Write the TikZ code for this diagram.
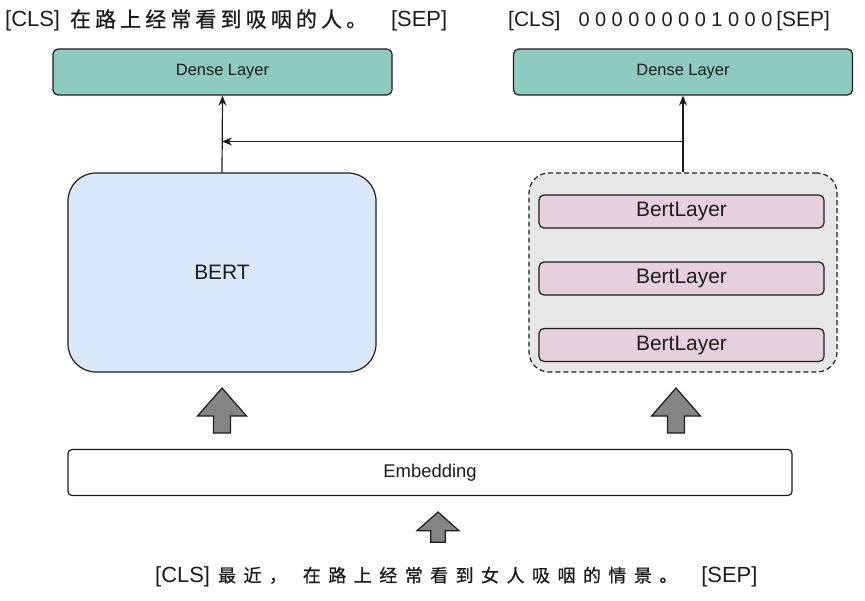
\documentclass[tikz,border=0pt]{standalone}
\usepackage{fontspec}
\setmainfont{Liberation Sans}
\newfontfamily\cjk[LetterSpace=20,FakeBold=0.8]{Noto Sans CJK SC}
\newfontfamily\cjkwide[LetterSpace=42,FakeBold=0.8]{Noto Sans CJK SC}
\usepackage{tikz}
\usetikzlibrary{arrows.meta}

\definecolor{densegreen}{RGB}{142,202,190}
\definecolor{bertblue}{RGB}{218,232,252}
\definecolor{stackgray}{RGB}{231,231,231}
\definecolor{layerpink}{RGB}{230,208,222}
\definecolor{arrowgray}{RGB}{132,132,132}
\definecolor{outline}{RGB}{28,28,28}

\tikzset{
  box/.style={draw=outline,line width=1.2bp,inner sep=0pt,text=outline},
  dense/.style={box,fill=densegreen,rounded corners=5bp,minimum width=339bp,minimum height=46bp,font=\fontsize{16.5}{19}\selectfont},
  bertbox/.style={box,fill=bertblue,rounded corners=28bp,minimum width=308bp,minimum height=199bp,font=\fontsize{21}{25}\selectfont},
  stackbox/.style={box,fill=stackgray,dashed,dash pattern=on 5bp off 3bp,rounded corners=20bp,minimum width=308bp,minimum height=199bp},
  layer/.style={box,fill=layerpink,rounded corners=5bp,minimum width=285bp,minimum height=33bp,font=\fontsize{21}{25}\selectfont},
  embed/.style={box,fill=white,rounded corners=4bp,minimum width=724bp,minimum height=46bp,font=\fontsize{18.5}{22}\selectfont},
  tokens/.style={inner sep=0pt,anchor=base west,text=outline,font=\fontsize{22}{26}\selectfont},
  conn/.style={draw=outline,line width=1.2bp,-{Stealth[length=10bp,width=8bp]}},
  blockup/.pic={\draw[outline,line width=1.2bp,fill=arrowgray] (0,0) -- (24.5,-28) -- (8.5,-28) -- (8.5,-45) -- (-8.5,-45) -- (-8.5,-28) -- (-24.5,-28) -- cycle;}
}

\begin{document}
\begin{tikzpicture}[x=1bp,y=1bp]
\useasboundingbox (0,0) rectangle (865,-601);

\node (srcleft) at (5,-27)[tokens] {[CLS]\hspace{10bp}{\cjk\fontsize{21}{25}\selectfont 在路上经常看到吸咽的人。}\hspace{24bp}[SEP]};
\node (srcright) at (508,-27)[tokens,font=\fontsize{21}{25}\selectfont] {[CLS]\hspace{18bp}{\fontsize{20}{24}\selectfont 0 0 0 0 0 0 0 0 1 0 0 0}\hspace{4bp}[SEP]};

\node (dl) at (222.5,-72)[dense] {Dense Layer};
\node (dr) at (683,-72)[dense] {Dense Layer};
\node (bert) at (222,-272.5)[bertbox] {BERT};
\node (stack) at (683,-272.5)[stackbox] {};
\node (bl1) at (681.5,-211.5)[layer] {BertLayer};
\node (bl2) at (681.5,-278.5)[layer] {BertLayer};
\node (bl3) at (681.5,-345)[layer] {BertLayer};
\node (emb) at (430,-472.5)[embed] {Embedding};
\coordinate (fork) at (683,-141.5);

\draw[conn] (bert.north) -- (dl.south);
\draw[conn] (stack.north) -- (dr.south);
\draw[conn] (fork) -- (fork -| bert.north);

\pic at (222,-388) {blockup};
\pic at (676,-388) {blockup};
\pic[xscale=0.86,yscale=0.67] at (438,-512) {blockup};

\node (input) at (155,-582)[tokens] {[CLS]\hspace{8bp}{\cjkwide\fontsize{18}{22}\selectfont 最近，}\hspace{16bp}{\cjkwide\fontsize{18}{22}\selectfont 在路上经常看到女人吸咽的情景。}\hspace{24bp}[SEP]};
\end{tikzpicture}
\end{document}
